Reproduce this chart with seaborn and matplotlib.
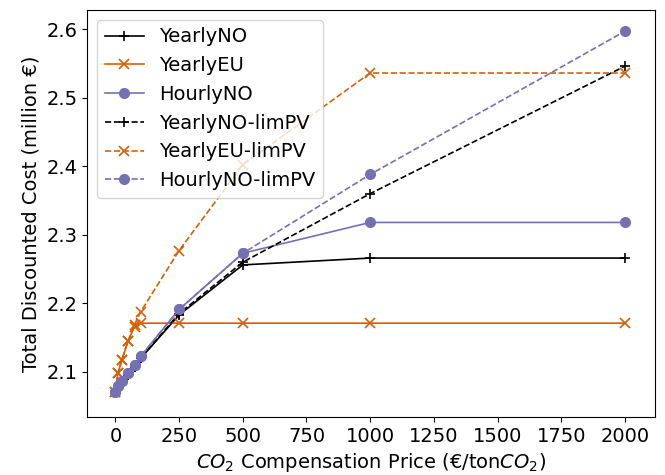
import matplotlib
matplotlib.use("Agg")
import matplotlib.pyplot as plt
import seaborn as sns
import pandas as pd

prices = [0, 10, 25, 50, 75, 100, 250, 500, 1000, 2000]

yearly_no = [2.070, 2.078, 2.085, 2.095, 2.107, 2.120, 2.183, 2.256, 2.266, 2.266]
yearly_eu = [2.070, 2.098, 2.117, 2.145, 2.166, 2.171, 2.171, 2.171, 2.171, 2.171]
hourly_no = [2.071, 2.079, 2.086, 2.098, 2.110, 2.123, 2.191, 2.273, 2.318, 2.318]
yearly_no_lim = [2.070, 2.078, 2.085, 2.095, 2.107, 2.120, 2.185, 2.260, 2.360, 2.546]
yearly_eu_lim = [2.070, 2.098, 2.117, 2.145, 2.169, 2.188, 2.277, 2.402, 2.536, 2.536]
hourly_no_lim = [2.071, 2.079, 2.086, 2.098, 2.110, 2.123, 2.191, 2.273, 2.388, 2.597]

series_names = ["YearlyNO", "YearlyEU", "HourlyNO",
                "YearlyNO-limPV", "YearlyEU-limPV", "HourlyNO-limPV"]
series_values = [yearly_no, yearly_eu, hourly_no,
                 yearly_no_lim, yearly_eu_lim, hourly_no_lim]
colors = ["black", "#d95f02", "#7570b3", "black", "#d95f02", "#7570b3"]
markers = ["+", "x", "o", "+", "x", "o"]
linestyles = ["-", "-", "-", "--", "--", "--"]

plt.rcParams["font.size"] = 14
plt.rcParams["font.family"] = ["DejaVu Sans"]

fig = plt.figure(figsize=(6.65, 4.75), dpi=100)
ax = fig.add_axes([0.131, 0.122, 0.854, 0.857])

for name, vals, c, m, ls in zip(series_names, series_values, colors, markers, linestyles):
    df = pd.DataFrame({"price": prices, "cost": vals})
    sns.lineplot(data=df, x="price", y="cost", ax=ax, color=c, marker=m,
                 linestyle=ls, label=name,
                 markersize=8 if m == "o" else 7,
                 markeredgecolor=c, markerfacecolor=c,
                 markeredgewidth=0 if m == "o" else 1.2,
                 linewidth=1.2)

ax.set_xlim(-111, 2118)
ax.set_ylim(2.034, 2.628)
ax.set_xticks([0, 250, 500, 750, 1000, 1250, 1500, 1750, 2000])
ax.set_yticks([2.1, 2.2, 2.3, 2.4, 2.5, 2.6])
ax.set_xlabel(r"$CO_2$ Compensation Price (€/ton$CO_2$)")
ax.set_ylabel("Total Discounted Cost (million €)")
ax.legend(loc="upper left", fontsize=14, handlelength=2.0)

fig.savefig("out.png", dpi=100)
